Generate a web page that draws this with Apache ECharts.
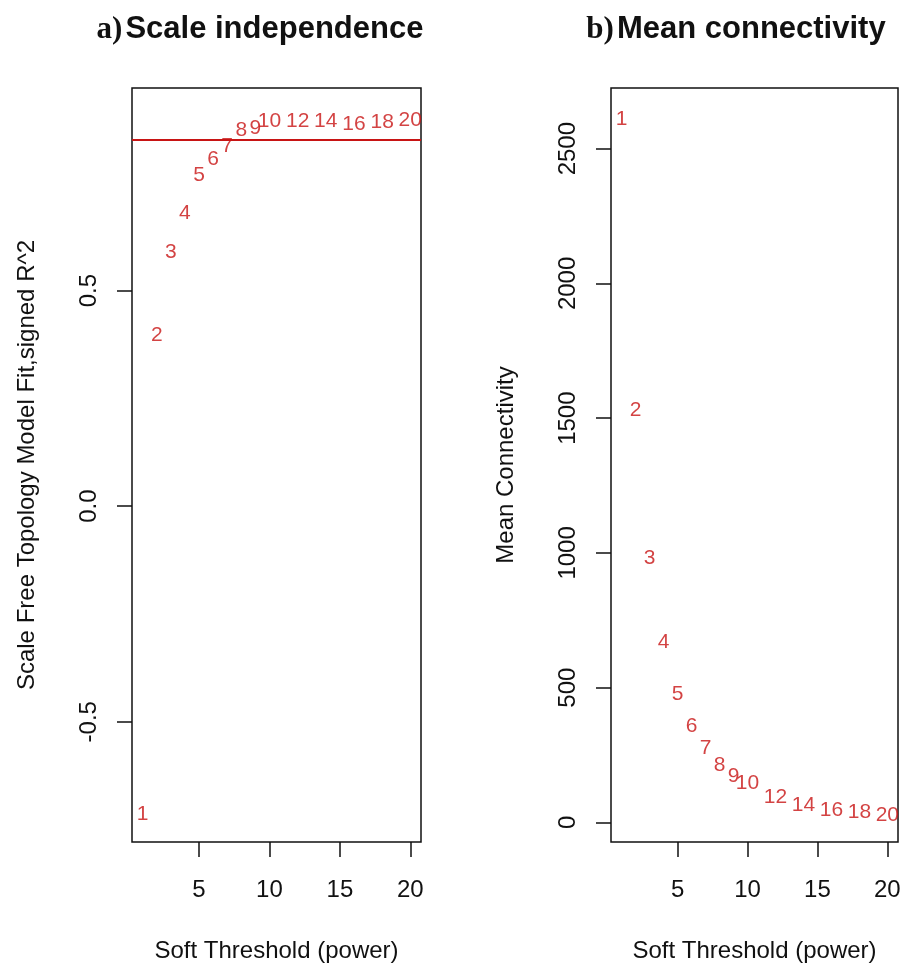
<!DOCTYPE html>
<html>
<head>
<meta charset="utf-8">
<script src="https://cdn.jsdelivr.net/npm/echarts@6/dist/echarts.min.js"></script>
<style>
  html, body { margin: 0; padding: 0; background: #fff; }
  #main { width: 904px; height: 967px; }
</style>
</head>
<body>
<div id="main"></div>
<script>
// 软阈值 power
var powers = [1, 2, 3, 4, 5, 6, 7, 8, 9, 10, 12, 14, 16, 18, 20];
// Scale free topology model fit, signed R^2
var sftR2 = [-0.715, 0.396, 0.589, 0.680, 0.767, 0.804, 0.836, 0.872, 0.877, 0.894, 0.892, 0.892, 0.885, 0.890, 0.896];
// Mean connectivity
var meanK = [2610, 1531, 981, 668, 476, 356, 276, 214, 171, 144, 93, 62, 47, 37, 25];
var cutR2 = 0.85;   // abline h

var xTicks = [5, 10, 15, 20];
var yTicksA = [-0.5, 0.0, 0.5];
var yTicksB = [0, 500, 1000, 1500, 2000, 2500];

var red = '#c81414';
var fontSans = 'Liberation Sans, Arial, sans-serif';
var fontSerif = 'Liberation Serif, Times New Roman, serif';

function pts(ys) {
    var res = [];
    for (var i = 0; i < powers.length; i++) {
        res.push([powers[i], ys[i]]);
    }
    return res;
}

function xAxisOpt(idx) {
    return {
        type: 'value',
        gridIndex: idx,
        min: 0.24,
        max: 20.76,
        name: 'Soft Threshold (power)',
        nameLocation: 'middle',
        nameGap: 97,
        nameTextStyle: { fontFamily: fontSans, fontSize: 24, color: '#111' },
        axisLine: { show: false, onZero: false },
        axisTick: { show: true, length: 15, customValues: xTicks, lineStyle: { color: '#111', width: 1.5 } },
        axisLabel: { customValues: xTicks, margin: 36, fontFamily: fontSans, fontSize: 24, color: '#111' },
        splitLine: { show: false }
    };
}

function yAxisOpt(idx, min, max, ticks, name, fmt) {
    return {
        type: 'value',
        gridIndex: idx,
        min: min,
        max: max,
        name: name,
        nameLocation: 'middle',
        nameGap: 93,
        nameTextStyle: { fontFamily: fontSans, fontSize: 24, color: '#111' },
        axisLine: { show: false, onZero: false },
        axisTick: { show: true, length: 15, customValues: ticks, lineStyle: { color: '#111', width: 1.5 } },
        axisLabel: {
            customValues: ticks, rotate: 90, margin: 31,
            fontFamily: fontSans, fontSize: 24, color: '#111',
            formatter: fmt
        },
        splitLine: { show: false }
    };
}

function labelSeries(idx, ys, withLine) {
    var s = {
        type: 'scatter',
        xAxisIndex: idx,
        yAxisIndex: idx,
        symbolSize: 1,
        itemStyle: { color: 'rgba(0,0,0,0)' },
        label: {
            show: true,
            position: 'inside',
            formatter: function (p) { return p.value[0]; },
            fontFamily: fontSans,
            fontSize: 21,
            color: red
        },
        emphasis: { disabled: true },
        data: pts(ys)
    };
    if (withLine) {
        s.markLine = {
            silent: true,
            symbol: ['none', 'none'],
            label: { show: false },
            lineStyle: { color: red, width: 2, type: 'solid' },
            data: [{ yAxis: cutR2 }]
        };
    }
    return s;
}

function titleOpt(a, b, cx) {
    return {
        text: '{s|' + a + '}{t|' + b + '}',
        left: cx, top: 9, textAlign: 'center',
        textStyle: {
            rich: {
                s: { fontFamily: fontSerif, fontWeight: 'bold', fontSize: 31, color: '#111', padding: [0, 3, 0, 0] },
                t: { fontFamily: fontSans, fontWeight: 'bold', fontSize: 31, color: '#111' }
            }
        }
    };
}

var myChart = echarts.init(document.getElementById('main'));
var option = {
    backgroundColor: '#fff',
    animation: false,
    title: [
        titleOpt('a)', 'Scale independence', 255),
        titleOpt('b)', 'Mean connectivity', 731)
    ],
    grid: [
        { left: 132, top: 88, width: 289, height: 754, show: true, borderColor: '#111', borderWidth: 1.5,
          backgroundColor: 'transparent', containLabel: false, outerBoundsMode: 'none' },
        { left: 611, top: 88, width: 287, height: 754, show: true, borderColor: '#111', borderWidth: 1.5,
          backgroundColor: 'transparent', containLabel: false, outerBoundsMode: 'none' }
    ],
    xAxis: [xAxisOpt(0), xAxisOpt(1)],
    yAxis: [
        yAxisOpt(0, -0.779, 0.970, yTicksA, 'Scale Free Topology Model Fit,signed R^2', function (v) { return v.toFixed(1); }),
        yAxisOpt(1, -72.7, 2725, yTicksB, 'Mean Connectivity', function (v) { return String(v); })
    ],
    series: [
        labelSeries(0, sftR2, true),
        labelSeries(1, meanK, false)
    ]
};
myChart.setOption(option);
</script>
</body>
</html>
